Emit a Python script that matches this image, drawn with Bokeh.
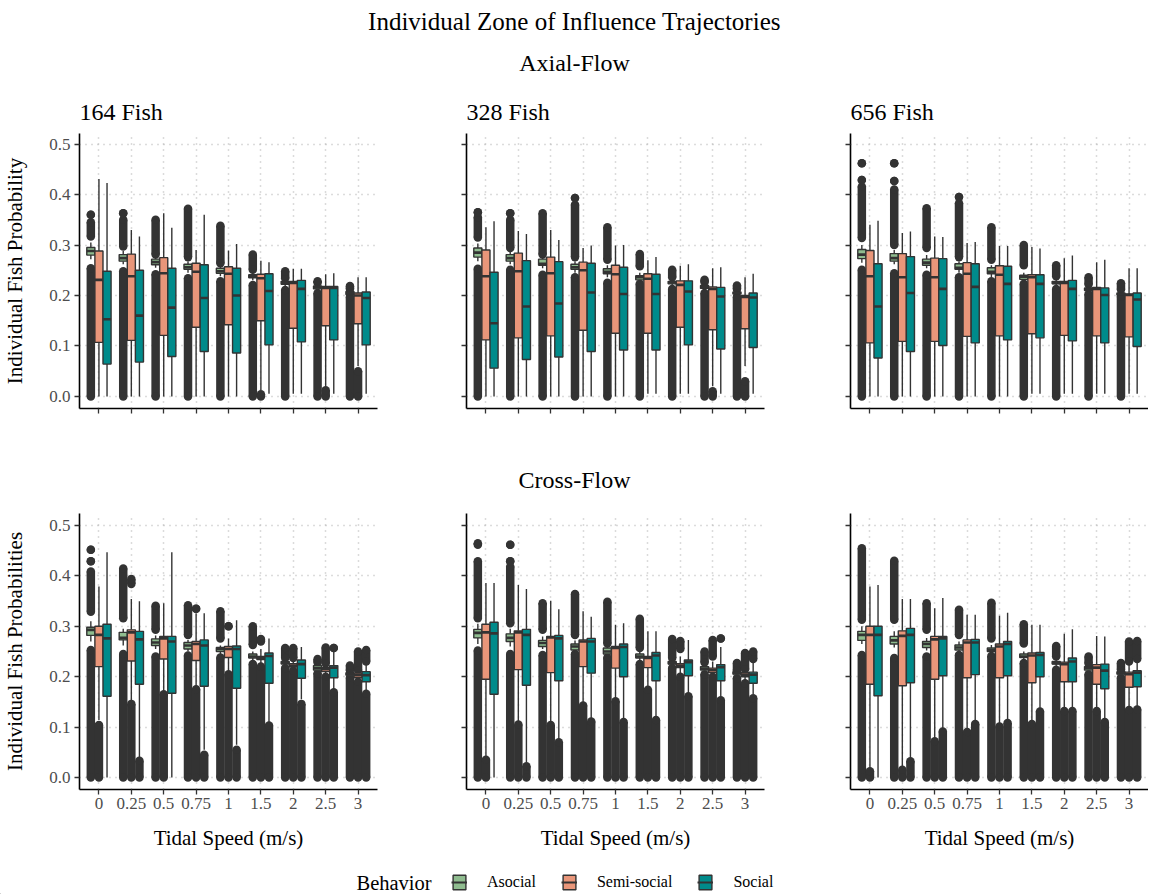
from bokeh.plotting import figure
from bokeh.models import (ColumnDataSource, Range1d, FixedTicker,
                          NumeralTickFormatter, Label, Legend, LegendItem)
from bokeh.transform import dodge
from bokeh.layouts import column, row
from bokeh.embed import file_html
from bokeh.resources import INLINE

# ---------------- data ----------------
SPEEDS = ["0", "0.25", "0.5", "0.75", "1", "1.5", "2", "2.5", "3"]
BEHAVIORS = ["Asocial", "Semi-social", "Social"]
FISH = ["164 Fish", "328 Fish", "656 Fish"]
Y_TICKS = [0.0, 0.1, 0.2, 0.3, 0.4, 0.5]

# box stats per tidal speed: (lower whisker, q1, median, q3, upper whisker)
AX164_ASO = [(0.272, 0.280, 0.288, 0.295, 0.305), (0.262, 0.268, 0.274, 0.281, 0.288),
             (0.255, 0.261, 0.266, 0.272, 0.277), (0.245, 0.252, 0.256, 0.262, 0.268),
             (0.238, 0.244, 0.248, 0.254, 0.260), (0.230, 0.235, 0.238, 0.241, 0.245),
             (0.218, 0.222, 0.225, 0.228, 0.231), (0.210, 0.213, 0.216, 0.219, 0.222),
             (0.200, 0.202, 0.205, 0.208, 0.210)]
AX164_SEMI = [(0.0, 0.107, 0.231, 0.288, 0.431), (0.0, 0.111, 0.238, 0.282, 0.330),
              (0.0, 0.121, 0.244, 0.275, 0.363), (0.0, 0.137, 0.247, 0.264, 0.290),
              (0.0, 0.142, 0.243, 0.257, 0.289), (0.012, 0.150, 0.234, 0.242, 0.269),
              (0.005, 0.135, 0.225, 0.228, 0.253), (0.020, 0.140, 0.215, 0.218, 0.242),
              (0.060, 0.144, 0.200, 0.205, 0.236)]
AX164_SOC = [(0.0, 0.064, 0.153, 0.248, 0.423), (0.0, 0.068, 0.160, 0.250, 0.317),
             (0.0, 0.079, 0.176, 0.254, 0.334), (0.0, 0.089, 0.195, 0.261, 0.360),
             (0.0, 0.086, 0.200, 0.254, 0.302), (0.005, 0.102, 0.209, 0.243, 0.266),
             (0.005, 0.108, 0.213, 0.230, 0.253), (0.005, 0.112, 0.215, 0.218, 0.244),
             (0.005, 0.102, 0.195, 0.207, 0.236)]

AX328_ASO = [(0.268, 0.276, 0.285, 0.294, 0.303), (0.262, 0.268, 0.274, 0.281, 0.288),
             (0.254, 0.260, 0.263, 0.272, 0.276), (0.245, 0.252, 0.256, 0.262, 0.268),
             (0.236, 0.243, 0.247, 0.253, 0.260), (0.228, 0.231, 0.236, 0.239, 0.245),
             (0.218, 0.223, 0.226, 0.228, 0.232), (0.210, 0.214, 0.217, 0.220, 0.223),
             (0.200, 0.203, 0.205, 0.207, 0.210)]
AX328_SEMI = [(0.0, 0.112, 0.238, 0.290, 0.335), (0.0, 0.116, 0.248, 0.284, 0.328),
              (0.0, 0.120, 0.244, 0.276, 0.330), (0.0, 0.131, 0.250, 0.266, 0.294),
              (0.0, 0.125, 0.242, 0.260, 0.299), (0.005, 0.125, 0.233, 0.243, 0.270),
              (0.005, 0.137, 0.221, 0.229, 0.259), (0.020, 0.132, 0.213, 0.217, 0.254),
              (0.060, 0.134, 0.197, 0.200, 0.236)]
AX328_SOC = [(0.0, 0.056, 0.145, 0.246, 0.347), (0.0, 0.073, 0.178, 0.269, 0.322),
             (0.0, 0.078, 0.184, 0.267, 0.310), (0.0, 0.089, 0.206, 0.264, 0.299),
             (0.0, 0.092, 0.203, 0.256, 0.300), (0.005, 0.092, 0.203, 0.242, 0.276),
             (0.005, 0.102, 0.208, 0.229, 0.262), (0.005, 0.094, 0.198, 0.216, 0.256),
             (0.005, 0.097, 0.196, 0.205, 0.243)]

AX656_ASO = [(0.265, 0.273, 0.281, 0.291, 0.300), (0.262, 0.268, 0.274, 0.283, 0.290),
             (0.254, 0.260, 0.265, 0.272, 0.280), (0.245, 0.252, 0.255, 0.263, 0.268),
             (0.236, 0.243, 0.247, 0.255, 0.260), (0.228, 0.232, 0.237, 0.240, 0.245),
             (0.218, 0.223, 0.225, 0.228, 0.232), (0.207, 0.210, 0.212, 0.215, 0.218),
             (0.200, 0.201, 0.203, 0.205, 0.208)]
AX656_SEMI = [(0.0, 0.106, 0.238, 0.289, 0.340), (0.0, 0.109, 0.236, 0.283, 0.324),
              (0.0, 0.109, 0.236, 0.274, 0.317), (0.0, 0.119, 0.243, 0.265, 0.304),
              (0.0, 0.120, 0.241, 0.259, 0.298), (0.005, 0.124, 0.236, 0.241, 0.296),
              (0.005, 0.121, 0.225, 0.228, 0.274), (0.005, 0.120, 0.213, 0.216, 0.266),
              (0.005, 0.118, 0.201, 0.203, 0.254)]
AX656_SOC = [(0.0, 0.076, 0.178, 0.263, 0.348), (0.0, 0.089, 0.205, 0.277, 0.327),
             (0.0, 0.101, 0.213, 0.273, 0.316), (0.0, 0.106, 0.217, 0.263, 0.306),
             (0.0, 0.112, 0.223, 0.258, 0.298), (0.005, 0.116, 0.223, 0.241, 0.293),
             (0.005, 0.110, 0.213, 0.230, 0.279), (0.005, 0.106, 0.201, 0.215, 0.271),
             (0.005, 0.099, 0.192, 0.205, 0.254)]

CR164_ASO = [(0.270, 0.282, 0.293, 0.298, 0.310), (0.262, 0.273, 0.277, 0.288, 0.295),
             (0.255, 0.262, 0.268, 0.275, 0.282), (0.250, 0.255, 0.262, 0.268, 0.273),
             (0.245, 0.250, 0.255, 0.258, 0.262), (0.230, 0.237, 0.240, 0.245, 0.250),
             (0.220, 0.225, 0.228, 0.230, 0.233), (0.210, 0.213, 0.217, 0.222, 0.225),
             (0.200, 0.203, 0.205, 0.208, 0.210)]
CR164_SEMI = [(0.114, 0.220, 0.283, 0.300, 0.379), (0.150, 0.231, 0.288, 0.293, 0.354),
              (0.170, 0.235, 0.276, 0.280, 0.346), (0.180, 0.232, 0.265, 0.270, 0.326),
              (0.207, 0.238, 0.255, 0.260, 0.276), (0.225, 0.234, 0.237, 0.240, 0.255),
              (0.215, 0.219, 0.222, 0.226, 0.232), (0.205, 0.210, 0.215, 0.218, 0.222),
              (0.195, 0.198, 0.203, 0.207, 0.210)]
CR164_SOC = [(0.0, 0.161, 0.276, 0.304, 0.447), (0.040, 0.185, 0.274, 0.290, 0.350),
             (0.0, 0.167, 0.270, 0.280, 0.447), (0.055, 0.181, 0.262, 0.273, 0.326),
             (0.065, 0.177, 0.255, 0.261, 0.312), (0.110, 0.187, 0.241, 0.247, 0.276),
             (0.155, 0.197, 0.225, 0.233, 0.259), (0.175, 0.198, 0.218, 0.222, 0.252),
             (0.172, 0.190, 0.203, 0.210, 0.225)]

CR328_ASO = [(0.265, 0.277, 0.287, 0.294, 0.305), (0.260, 0.270, 0.277, 0.285, 0.295),
             (0.255, 0.260, 0.267, 0.272, 0.280), (0.248, 0.253, 0.260, 0.265, 0.272),
             (0.240, 0.245, 0.250, 0.257, 0.262), (0.230, 0.237, 0.240, 0.245, 0.250),
             (0.220, 0.225, 0.227, 0.230, 0.233), (0.210, 0.213, 0.216, 0.220, 0.223),
             (0.200, 0.205, 0.207, 0.210, 0.210)]
CR328_SEMI = [(0.040, 0.195, 0.288, 0.304, 0.386), (0.110, 0.214, 0.288, 0.291, 0.382),
              (0.110, 0.208, 0.278, 0.280, 0.351), (0.145, 0.220, 0.270, 0.273, 0.330),
              (0.155, 0.217, 0.257, 0.260, 0.303), (0.180, 0.218, 0.237, 0.240, 0.290),
              (0.205, 0.218, 0.222, 0.226, 0.240), (0.205, 0.208, 0.213, 0.217, 0.230),
              (0.190, 0.200, 0.204, 0.208, 0.212)]
CR328_SOC = [(0.0, 0.165, 0.286, 0.308, 0.386), (0.030, 0.183, 0.283, 0.294, 0.374),
             (0.075, 0.192, 0.276, 0.282, 0.334), (0.115, 0.207, 0.270, 0.276, 0.319),
             (0.115, 0.200, 0.259, 0.265, 0.306), (0.120, 0.192, 0.242, 0.248, 0.290),
             (0.165, 0.202, 0.229, 0.233, 0.273), (0.160, 0.192, 0.219, 0.224, 0.259),
             (0.165, 0.187, 0.204, 0.209, 0.230)]

CR656_ASO = [(0.265, 0.272, 0.283, 0.290, 0.300), (0.258, 0.265, 0.272, 0.280, 0.290),
             (0.252, 0.258, 0.265, 0.270, 0.277), (0.247, 0.253, 0.258, 0.263, 0.270),
             (0.244, 0.250, 0.253, 0.257, 0.263), (0.232, 0.238, 0.240, 0.245, 0.250),
             (0.220, 0.225, 0.227, 0.230, 0.233), (0.208, 0.213, 0.217, 0.220, 0.222),
             (0.200, 0.205, 0.207, 0.210, 0.211)]
CR656_SEMI = [(0.015, 0.185, 0.283, 0.300, 0.379), (0.020, 0.182, 0.281, 0.291, 0.354),
              (0.078, 0.195, 0.274, 0.280, 0.336), (0.095, 0.198, 0.268, 0.273, 0.323),
              (0.105, 0.198, 0.260, 0.265, 0.321), (0.110, 0.188, 0.242, 0.247, 0.303),
              (0.135, 0.190, 0.225, 0.229, 0.285), (0.135, 0.185, 0.218, 0.224, 0.281),
              (0.140, 0.179, 0.205, 0.209, 0.225)]
CR656_SOC = [(0.0, 0.162, 0.283, 0.300, 0.382), (0.035, 0.188, 0.283, 0.296, 0.354),
             (0.095, 0.202, 0.276, 0.280, 0.356), (0.110, 0.204, 0.268, 0.274, 0.323),
             (0.110, 0.202, 0.265, 0.270, 0.327), (0.135, 0.200, 0.243, 0.248, 0.303),
             (0.135, 0.190, 0.230, 0.237, 0.294), (0.115, 0.176, 0.212, 0.225, 0.280),
             (0.140, 0.180, 0.208, 0.212, 0.230)]

# outliers per tidal speed: runs of densely packed points as (from, to)
AX164_ASO_OUT = [[(0, 0.254), (0.317, 0.345), (0.36, 0.36)], [(0, 0.248), (0.297, 0.35), (0.363, 0.363)],
                 [(0, 0.242), (0.281, 0.35)], [(0, 0.234), (0.276, 0.372)], [(0, 0.228), (0.264, 0.338)],
                 [(0, 0.221), (0.251, 0.281)], [(0, 0.211), (0.234, 0.248)], [(0, 0.205), (0.225, 0.228)],
                 [(0, 0.197), (0.213, 0.219)]]
AX164_SEMI_OUT = [[], [], [], [], [], [(0, 0.004)], [], [(0, 0.012)], [(0, 0.05)]]
AX164_SOC_OUT = [[], [], [], [], [], [], [], [], []]

AX328_ASO_OUT = [[(0, 0.253), (0.315, 0.355), (0.365, 0.365)], [(0, 0.251), (0.294, 0.35), (0.363, 0.363)],
                 [(0, 0.241), (0.281, 0.363)], [(0, 0.236), (0.276, 0.38), (0.393, 0.393)],
                 [(0, 0.225), (0.271, 0.335)], [(0, 0.223), (0.258, 0.282)], [(0, 0.213), (0.236, 0.251)],
                 [(0, 0.205), (0.226, 0.231)], [(0, 0.197), (0.213, 0.22)]]
AX328_SEMI_OUT = [[], [], [], [], [], [], [], [(0, 0.01)], [(0, 0.03)]]
AX328_SOC_OUT = [[], [], [], [], [], [], [], [], []]

AX656_ASO_OUT = [[(0, 0.251), (0.314, 0.416), (0.429, 0.429), (0.462, 0.462)],
                 [(0, 0.244), (0.3, 0.41), (0.427, 0.427), (0.462, 0.462)],
                 [(0, 0.241), (0.294, 0.373)], [(0, 0.236), (0.276, 0.383), (0.395, 0.395)],
                 [(0, 0.228), (0.271, 0.335)], [(0, 0.223), (0.26, 0.3)], [(0, 0.213), (0.238, 0.26)],
                 [(0, 0.203), (0.222, 0.236)], [(0, 0.198), (0.212, 0.224)]]
AX656_SEMI_OUT = [[], [], [], [], [], [], [], [], []]
AX656_SOC_OUT = [[], [], [], [], [], [], [], [], []]

CR164_ASO_OUT = [[(0, 0.253), (0.329, 0.409), (0.429, 0.429), (0.452, 0.452)], [(0, 0.245), (0.316, 0.415)],
                 [(0, 0.24), (0.293, 0.341)], [(0, 0.242), (0.283, 0.342)], [(0, 0.238), (0.276, 0.33)],
                 [(0, 0.225), (0.263, 0.3)], [(0, 0.217), (0.237, 0.257)], [(0, 0.207), (0.228, 0.235)],
                 [(0, 0.198), (0.213, 0.222)]]
CR164_SEMI_OUT = [[(0, 0.104)], [(0, 0.146), (0.384, 0.394)], [(0, 0.165)], [(0, 0.175), (0.335, 0.335)],
                  [(0, 0.205), (0.3, 0.3)], [(0, 0.22), (0.27, 0.275)], [(0, 0.212), (0.237, 0.257)],
                  [(0, 0.2), (0.226, 0.258)], [(0, 0.19), (0.213, 0.25)]]
CR164_SOC_OUT = [[], [(0, 0.033)], [], [(0, 0.045)], [(0, 0.055)], [(0, 0.103)], [(0, 0.146)],
                 [(0, 0.169), (0.257, 0.257)], [(0, 0.166), (0.23, 0.253)]]

CR328_ASO_OUT = [[(0, 0.252), (0.316, 0.429), (0.462, 0.465)],
                 [(0, 0.245), (0.306, 0.419), (0.429, 0.429), (0.462, 0.462)],
                 [(0, 0.243), (0.293, 0.346)], [(0, 0.245), (0.283, 0.364)], [(0, 0.238), (0.266, 0.349)],
                 [(0, 0.225), (0.257, 0.315)], [(0, 0.217), (0.237, 0.275)], [(0, 0.205), (0.228, 0.25)],
                 [(0, 0.197), (0.213, 0.227)]]
CR328_SEMI_OUT = [[(0, 0.035)], [(0, 0.105)], [(0, 0.104)], [(0, 0.143)], [(0, 0.151)], [(0, 0.174)],
                  [(0, 0.2), (0.255, 0.271)], [(0, 0.2), (0.24, 0.273)], [(0, 0.187), (0.215, 0.247)]]
CR328_SOC_OUT = [[], [(0, 0.022)], [(0, 0.07)], [(0, 0.111)], [(0, 0.11)], [(0, 0.114)], [(0, 0.161)],
                 [(0, 0.153), (0.276, 0.276)], [(0, 0.157), (0.235, 0.25)]]

CR656_ASO_OUT = [[(0, 0.243), (0.313, 0.455)], [(0, 0.237), (0.313, 0.43)], [(0, 0.24), (0.293, 0.346)],
                 [(0, 0.243), (0.283, 0.333)], [(0, 0.241), (0.276, 0.347)], [(0, 0.227), (0.266, 0.304)],
                 [(0, 0.214), (0.24, 0.261)], [(0, 0.205), (0.226, 0.24)], [(0, 0.198), (0.214, 0.227)]]
CR656_SEMI_OUT = [[(0, 0.012)], [(0, 0.015)], [(0, 0.072)], [(0, 0.09)], [(0, 0.101)], [(0, 0.106)],
                  [(0, 0.132)], [(0, 0.132)], [(0, 0.134), (0.23, 0.27)]]
CR656_SOC_OUT = [[], [(0, 0.032)], [(0, 0.091)], [(0, 0.106)], [(0, 0.108)], [(0, 0.131)], [(0, 0.132)],
                 [(0, 0.11)], [(0, 0.135), (0.235, 0.271)]]

# ---------------- styling ----------------
FONT = "Liberation Serif"
COLORS = ["#8FBC8F", "#E9967A", "#008B8B"]
OFFSETS = [-0.25, 0.0, 0.25]
BOX_W = 0.25
DARK = "#333333"
GRID = "#B8B8B8"
FRAME_W = 298
DOT = 8.5
POS = list(range(len(SPEEDS)))   # slot of each tidal speed on the discrete axis


def make_panel(stats, outs, top, col, title, ylabel):
    if top:
        fh, bt, bb = 275, 44, 13
        yr = Range1d(-0.024, 0.521)
    else:
        fh, bt, bb = 276, 7, 62
        yr = Range1d(-0.024, 0.524)
    bl = [71, 20, 20][col]
    br = [69, 66, 0][col]
    p = figure(x_range=Range1d(-0.6, len(SPEEDS) - 0.4),
               y_range=yr, frame_width=FRAME_W, frame_height=fh,
               min_border_left=bl, min_border_right=br, min_border_top=bt, min_border_bottom=bb,
               output_backend="svg", toolbar_location=None)
    p.outline_line_color = None
    p.background_fill_color = "white"
    p.border_fill_color = "white"

    for g in (p.xgrid, p.ygrid):
        g.grid_line_color = GRID
        g.grid_line_dash = "1 5"
        g.grid_line_width = 1.5

    for ax in (p.xaxis, p.yaxis):
        ax.axis_line_color = "black"
        ax.axis_line_width = 1.6
        ax.major_tick_line_color = DARK
        ax.major_tick_line_width = 1.3
        ax.major_tick_out = 5
        ax.major_tick_in = 0
        ax.minor_tick_line_color = None
        ax.major_label_text_font = FONT
        ax.major_label_text_font_size = "17px"
        ax.major_label_text_color = "#4D4D4D"
        ax.axis_label_text_font = FONT
        ax.axis_label_text_font_size = "21px"
        ax.axis_label_text_font_style = "normal"
        ax.axis_label_text_color = "black"

    p.yaxis.ticker = FixedTicker(ticks=Y_TICKS)
    p.yaxis.formatter = NumeralTickFormatter(format="0.0")
    p.yaxis.major_label_standoff = 4
    p.xaxis.ticker = FixedTicker(ticks=POS)
    p.xaxis.major_label_standoff = 3

    if col == 0:
        p.yaxis.axis_label = ylabel
        p.yaxis.axis_label_standoff = 19
    else:
        p.yaxis.major_label_overrides = {t: "" for t in Y_TICKS}
    if top:
        p.xaxis.major_label_overrides = {i: "" for i in POS}
    else:
        p.xaxis.major_label_overrides = {i: s for i, s in zip(POS, SPEEDS)}
        p.xaxis.axis_label = "Tidal Speed (m/s)"
        p.xaxis.axis_label_standoff = 14

    if title:
        p.title.text = title
        p.title.text_font = FONT
        p.title.text_font_size = "24px"
        p.title.text_font_style = "normal"
        p.title.text_color = "black"
        p.title.align = "left"
        p.title.standoff = 17

    # outliers first
    for bouts, off in zip(outs, OFFSETS):
        sp, lo, hi = [], [], []
        for pos, runs in zip(POS, bouts):
            for a, b in runs:
                sp.append(pos); lo.append(a); hi.append(b)
        osrc = ColumnDataSource(dict(pos=sp, lo=lo, hi=hi))
        xo = dodge("pos", off)
        p.segment(x0=xo, y0="lo", x1=xo, y1="hi", source=osrc,
                  line_color=DARK, line_width=DOT)
        p.scatter(x=xo, y="lo", source=osrc, size=DOT, fill_color=DARK, line_color=None)
        p.scatter(x=xo, y="hi", source=osrc, size=DOT, fill_color=DARK, line_color=None)

    for bstats, color, off in zip(stats, COLORS, OFFSETS):
        src = ColumnDataSource(dict(
            pos=POS,
            wlo=[t[0] for t in bstats], q1=[t[1] for t in bstats], med=[t[2] for t in bstats],
            q3=[t[3] for t in bstats], whi=[t[4] for t in bstats]))
        xc = dodge("pos", off)
        p.segment(x0=xc, y0="wlo", x1=xc, y1="q1", source=src, line_color=DARK, line_width=1.4)
        p.segment(x0=xc, y0="q3", x1=xc, y1="whi", source=src, line_color=DARK, line_width=1.4)
        p.vbar(x=xc, width=BOX_W, bottom="q1", top="q3", source=src,
               fill_color=color, line_color=DARK, line_width=1.4)
        p.segment(x0=dodge("pos", off - BOX_W / 2), y0="med",
                  x1=dodge("pos", off + BOX_W / 2), y1="med",
                  source=src, line_color=DARK, line_width=2.6)
    return p


def header(text, h, ycenter_from_top, size):
    p = figure(x_range=Range1d(0, 1140), y_range=Range1d(0, h), frame_width=1140, frame_height=h,
               min_border=0, x_axis_type=None, y_axis_type=None,
               output_backend="svg", toolbar_location=None)
    p.grid.visible = False
    p.outline_line_color = None
    for t, yc, fs in zip(text, ycenter_from_top, size):
        p.add_layout(Label(x=574, y=h - yc, text=t, text_align="center", text_baseline="middle",
                           text_font=FONT, text_font_size=fs, text_color="black"))
    return p


axial = [(AX164_ASO, AX164_SEMI, AX164_SOC), (AX328_ASO, AX328_SEMI, AX328_SOC),
         (AX656_ASO, AX656_SEMI, AX656_SOC)]
axial_out = [(AX164_ASO_OUT, AX164_SEMI_OUT, AX164_SOC_OUT), (AX328_ASO_OUT, AX328_SEMI_OUT, AX328_SOC_OUT),
             (AX656_ASO_OUT, AX656_SEMI_OUT, AX656_SOC_OUT)]
cross = [(CR164_ASO, CR164_SEMI, CR164_SOC), (CR328_ASO, CR328_SEMI, CR328_SOC),
         (CR656_ASO, CR656_SEMI, CR656_SOC)]
cross_out = [(CR164_ASO_OUT, CR164_SEMI_OUT, CR164_SOC_OUT), (CR328_ASO_OUT, CR328_SEMI_OUT, CR328_SOC_OUT),
             (CR656_ASO_OUT, CR656_SEMI_OUT, CR656_SOC_OUT)]

top_row = [make_panel(axial[i], axial_out[i], True, i, FISH[i], "Individual Fish Probability")
           for i in range(3)]
bot_row = [make_panel(cross[i], cross_out[i], False, i, None, "Individual Fish Probabilities")
           for i in range(3)]

head1 = header(["Individual Zone of Influence Trajectories", "Axial-Flow"], 88, [21, 62], ["25px", "24px"])
head2 = header(["Cross-Flow"], 85, [58], ["24px"])

# legend strip
leg = figure(x_range=Range1d(0, 1140), y_range=Range1d(0, 42), frame_width=1140, frame_height=42,
             min_border=0, x_axis_type=None, y_axis_type=None,
             output_backend="svg", toolbar_location=None)
leg.grid.visible = False
leg.outline_line_color = None
items = []
for name, color in zip(BEHAVIORS, COLORS):
    hidden = ColumnDataSource(dict(x=[-5000], top=[-5000], y=[-5000]))
    r1 = leg.vbar(x="x", top="top", width=1, source=hidden, fill_color=color,
                  line_color=DARK, line_width=1.4)
    r2 = leg.segment(x0="x", y0="y", x1="x", y1="y", source=hidden, line_color=DARK, line_width=2)
    items.append(LegendItem(label=name, renderers=[r1, r2]))
legend = Legend(items=items, orientation="horizontal", location=(451, 3),
                glyph_width=16, glyph_height=18, label_standoff=20, spacing=25,
                padding=0, margin=0, border_line_color=None, background_fill_alpha=0,
                label_text_font=FONT, label_text_font_size="16px", label_text_color="black")
leg.add_layout(legend)
leg.add_layout(Label(x=356, y=12, text="Behavior", text_baseline="middle", text_align="left",
                     text_font=FONT, text_font_size="20.5px", text_color="black"))

layout = column(head1, row(*top_row), head2, row(*bot_row), leg)

open("out.html", "w").write(file_html(layout, INLINE))
